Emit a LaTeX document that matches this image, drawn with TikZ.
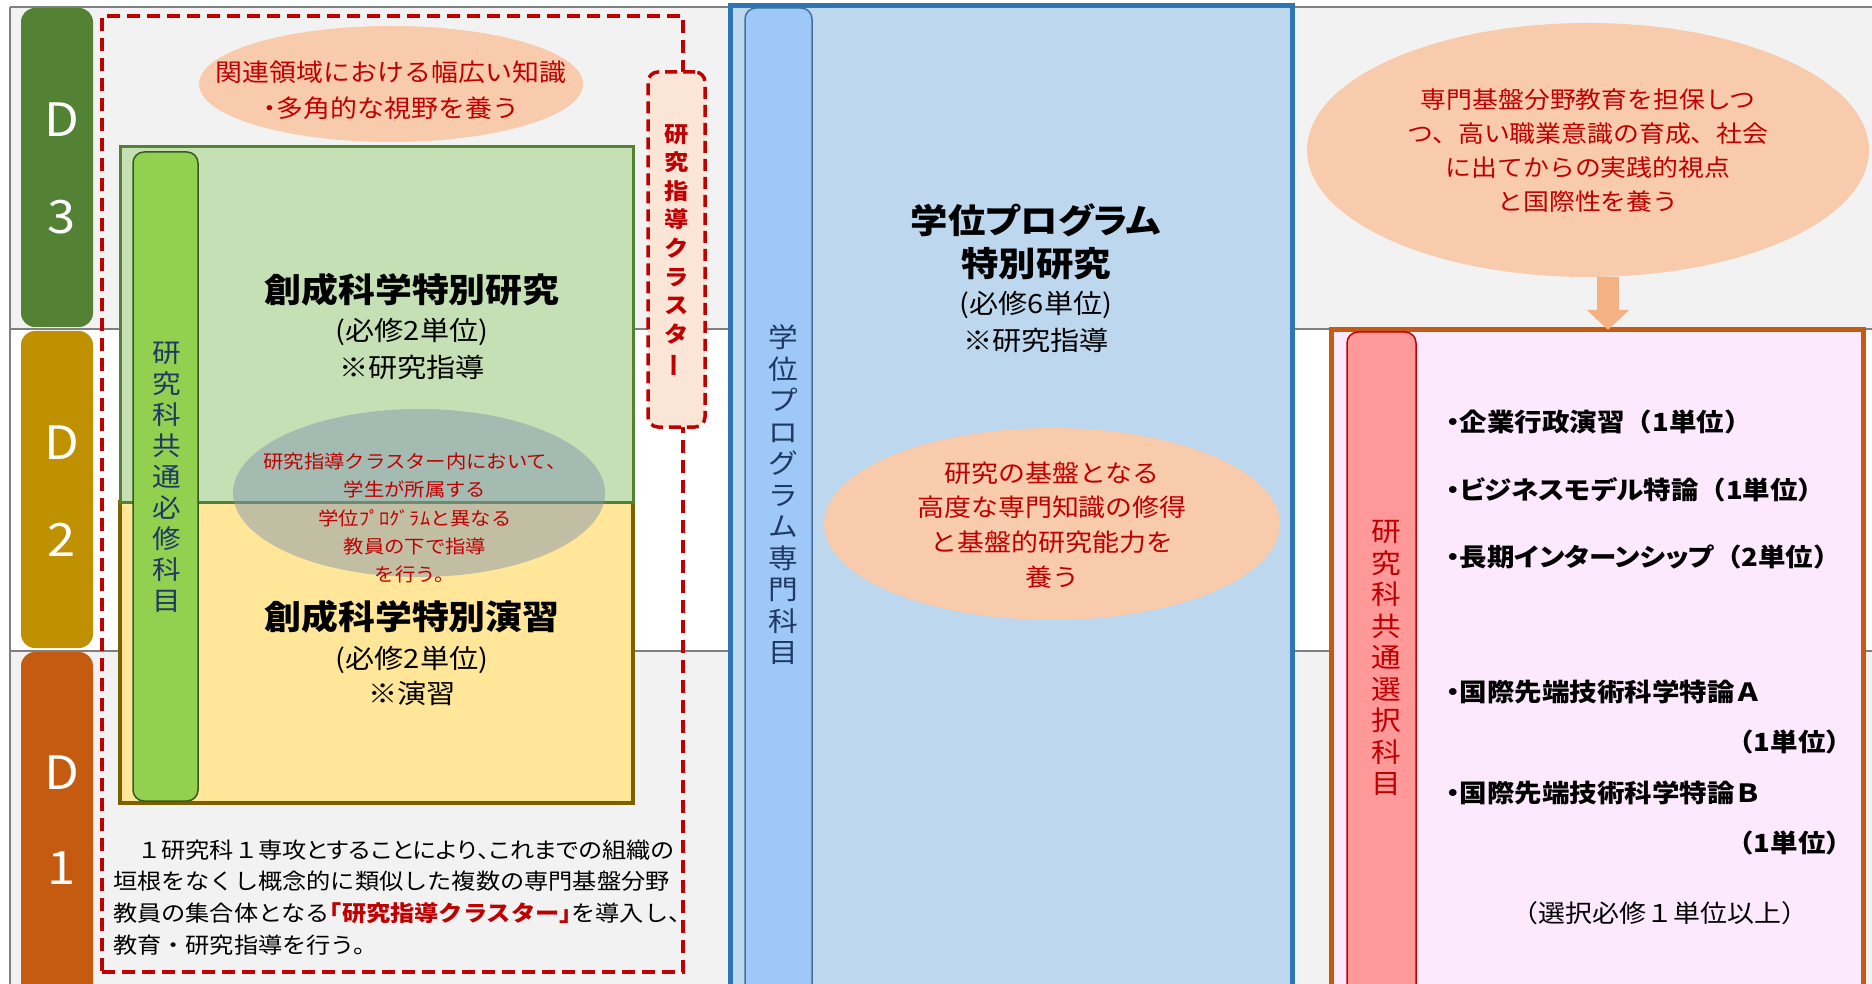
\documentclass[tikz,border=0pt]{standalone}
\usepackage{fontspec}
\setmainfont{Noto Sans CJK JP}[FakeStretch=1.1]
\newfontfamily\hw{Noto Sans CJK JP}[FakeStretch=1.1,RawFeature=+halt]
\newfontfamily\pw{Noto Sans CJK JP}[FakeStretch=1.1,RawFeature=+palt]
\usepackage{graphicx}
\usetikzlibrary{shapes.geometric,arrows.meta}
\definecolor{bandgrey}{HTML}{F2F2F2}
\definecolor{gridc}{HTML}{808080}
\definecolor{dgreen}{HTML}{548235}
\definecolor{dgold}{HTML}{BF9000}
\definecolor{dorange}{HTML}{C55A11}
\definecolor{darkred}{HTML}{C00000}
\definecolor{peach}{HTML}{F8CBAD}
\definecolor{lpeach}{HTML}{FBE5D6}
\definecolor{lgreen}{HTML}{C5E0B4}
\definecolor{lyellow}{HTML}{FFE699}
\definecolor{olive}{HTML}{7F6000}
\definecolor{bargreen}{HTML}{92D050}
\definecolor{bargreenb}{HTML}{385723}
\definecolor{navy}{HTML}{1F3864}
\definecolor{greyell}{HTML}{8497B0}
\definecolor{blueb}{HTML}{2E75B6}
\definecolor{bluef}{HTML}{BDD7EE}
\definecolor{bluebar}{HTML}{9DC8F8}
\definecolor{bluebarb}{HTML}{41719C}
\definecolor{pinkf}{HTML}{FDE9FD}
\definecolor{pinkbar}{HTML}{FF9999}
\definecolor{arrowc}{HTML}{F4B183}
\begin{document}
\begin{tikzpicture}[x=1pt,y=-1pt,
  every node/.style={inner sep=0pt,outer sep=0pt},
  gridline/.style={draw=gridc,line width=1.5pt},
  dlab/.style={fill=#1,rounded corners=14pt,minimum width=72pt},
  dtext/.style={text=white,font=\fontsize{46}{50}\selectfont},
  redtext/.style={text=darkred,align=center},
  vtext/.style={align=center},
  bar/.style={rounded corners=11pt,line width=1.5pt},
  pell/.style={ellipse,fill=peach},
]
\useasboundingbox (0,0) rectangle (1872,984);
\clip (0,0) rectangle (1872,984);
\fill[white] (0,0) rectangle (1872,984);
% year bands
\fill[bandgrey] (10,7) rectangle (1872,329);
\fill[bandgrey] (10,651) rectangle (1872,984);
\draw[gridline] (10,7) -- (1872,7);
\draw[gridline] (10,329) -- (1872,329);
\draw[gridline] (10,651) -- (1872,651);
\draw[gridline] (10,7) -- (10,984);
% D labels
\node[dlab=dgreen,minimum height=319pt] (d3) at (57,167.5) {};
\node[dtext] (d3a) at (62,120) {D};
\node[dtext] (d3b) at (62,217) {3};
\node[dlab=dgold,minimum height=317pt] (d2) at (57,489.5) {};
\node[dtext] (d2a) at (62,443) {D};
\node[dtext] (d2b) at (62,540) {2};
\node[dlab=dorange,minimum height=348pt] (d1) at (57,826) {};
\node[dtext] (d1a) at (62,773) {D};
\node[dtext] (d1b) at (62,868) {1};
% cluster dashed box
\node[draw=darkred,line width=4pt,dash pattern=on 13pt off 7pt,minimum width=581pt,minimum height=956pt] (cluster) at (392.5,494) {};
% top-left peach ellipse
\node[pell,minimum width=384pt,minimum height=116pt] (tlell) at (391,84) {};
\node[redtext,font=\fontsize{24.5}{36}\selectfont] (tltxt) at (391,90) {関連領域における幅広い知識\\{\hw ・}多角的な視野を養う};
% yellow and green boxes
\node[fill=lyellow,draw=olive,line width=4pt,minimum width=513pt,minimum height=301pt] (ybox) at (376.5,652.5) {};
\node[fill=lgreen,draw=dgreen,line width=3pt,minimum width=513pt,minimum height=355pt] (gbox) at (376.5,324.5) {};
\node[font=\bfseries\fontsize{33.5}{33.5}\selectfont] (gtitle) at (412,290) {創成科学特別研究};
\node[align=center,font=\fontsize{26.5}{37}\selectfont] (gsub) at (412,348.5) {(必修2単位)\\※研究指導};
\node[font=\bfseries\fontsize{33.5}{33.5}\selectfont] (ytitle) at (412,617) {創成科学特別演習};
\node[align=center,font=\fontsize{26.5}{35}\selectfont] (ysub) at (412,675.5) {(必修2単位)\\※演習};
% grey ellipse
\node[ellipse,fill=greyell,fill opacity=0.5,minimum width=372pt,minimum height=168pt] (gell) at (419,493) {};
\node[redtext,font=\fontsize{18.5}{28.3}\selectfont] (gelltxt) at (415,518) {研究指導クラスター内において、\\学生が所属する\\学位ﾌﾟﾛｸﾞﾗﾑと異なる\\教員の下で指導\\を行う。};
% green bar
\node[bar,fill=bargreen,draw=bargreenb,minimum width=65pt,minimum height=649pt] (gbar) at (165.5,476.5) {};
\node[vtext,text=navy,font=\fontsize{26}{31}\selectfont] (gbartxt) at (167,477) {研\\究\\科\\共\\通\\必\\修\\科\\目};
% cluster label
\node[fill=lpeach,draw=darkred,line width=3.5pt,dash pattern=on 12pt off 6pt,rounded corners=10pt,minimum width=57pt,minimum height=355pt] (clab) at (676.5,249.5) {};
\node[vtext,text=darkred,font=\bfseries\fontsize{22}{28.6}\selectfont] (clabtxt) at (677,251) {研\\究\\指\\導\\ク\\ラ\\ス\\タ\\\rotatebox[origin=c]{90}{ー}};
% paragraph
\node[anchor=west,align=left,font=\fontsize{22}{31.7}\selectfont] (para) at (113,897.5) {　１研究科１専攻{\pw とすることにより}{\hw 、}{\pw これまでの}組織の\\垣根をなくし概念的に類似した複数の専門基盤分野\\教員の集合体となる{\bfseries\color{darkred}{\hw 「}研究指導クラスター{\hw 」}}を導入し{\hw 、}\\教育・研究指導を行う。};
% degree program column
\node[fill=bluef,draw=blueb,line width=5pt,minimum width=562pt,minimum height=989pt] (pbox) at (1011,500.5) {};
\node[bar,fill=bluebar,draw=bluebarb,minimum width=67pt,minimum height=987pt] (pbar) at (778.5,501.5) {};
\node[vtext,text=navy,font=\fontsize{27}{31.5}\selectfont] (pbartxt) at (783,495) {学\\位\\プ\\ロ\\グ\\ラ\\ム\\専\\門\\科\\目};
\node[align=center,font=\bfseries\fontsize{34}{43}\selectfont] (ptitle) at (1036,241.5) {学位{\pw プログラム}\\特別研究};
\node[align=center,font=\fontsize{26.5}{37}\selectfont] (psub) at (1036,321.5) {(必修6単位)\\※研究指導};
\node[pell,minimum width=456pt,minimum height=192pt] (pell) at (1052,524) {};
\node[redtext,font=\fontsize{24.5}{34.7}\selectfont] (pelltxt) at (1052,525) {研究の基盤となる\\高度な専門知識の修得\\と基盤的研究能力を\\養う};
% elective column
\node[pell,minimum width=562pt,minimum height=254pt] (rell) at (1588,150) {};
\node[redtext,font=\fontsize{23.5}{34}\selectfont] (relltxt) at (1588,151) {専門基盤分野教育を担保しつ\\つ、高い職業意識の育成、社会\\に出てからの実践的視点\\と国際性を養う};
\node[fill=pinkf,draw=dorange,line width=5pt,minimum width=532pt,minimum height=665pt] (rbox) at (1597,662.5) {};
\coordinate (ax) at (1608,0);
\draw[-{Triangle[width=41pt,length=20pt]},line width=22pt,draw=arrowc] (rell.south -| ax) -- (ax |- rbox.north);
\node[bar,fill=pinkbar,draw=darkred,minimum width=69pt,minimum height=663pt] (rbar) at (1381.5,663.5) {};
\node[vtext,text=darkred,font=\fontsize{27}{31.5}\selectfont] (rbartxt) at (1386,658) {研\\究\\科\\共\\通\\選\\択\\科\\目};
\begin{scope}[every node/.append style={font=\bfseries\fontsize{25}{25}\selectfont}]
\node[anchor=west] (e1) at (1446,422) {{\hw ・}企業行政演習（1単位）};
\node[anchor=west] (e2) at (1446,490) {{\hw ・}{\pw ビジネスモデル}特論（1単位）};
\node[anchor=west] (e3) at (1446,557) {{\hw ・}長期{\pw インターンシップ}（2単位）};
\node[anchor=west] (e4) at (1446,692) {{\hw ・}国際先端技術科学特論Ａ};
\node[anchor=east] (e4c) at (1853,742) {（1単位）};
\node[anchor=west] (e5) at (1446,793) {{\hw ・}国際先端技術科学特論Ｂ};
\node[anchor=east] (e5c) at (1853,843) {（1単位）};
\end{scope}
\node[font=\fontsize{24.5}{24.5}\selectfont] (enote) at (1660,913) {（選択必修１単位以上）};
\end{tikzpicture}
\end{document}
